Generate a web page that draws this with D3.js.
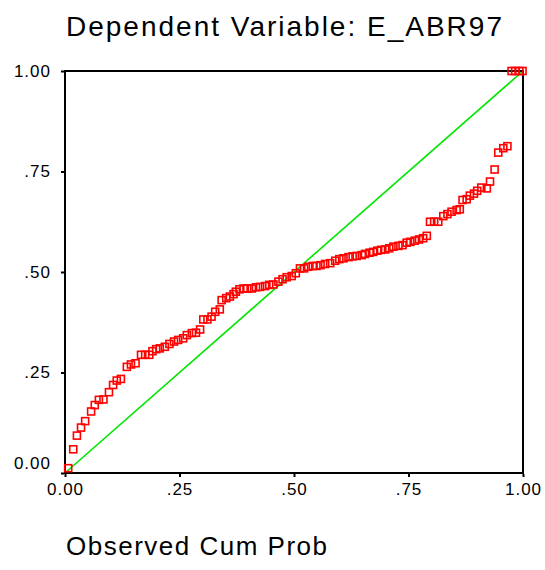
<!DOCTYPE html>
<html>
<head>
<meta charset="utf-8">
<script src="https://cdn.jsdelivr.net/npm/d3@7"></script>
<style>
  html, body { margin: 0; padding: 0; background: #fff; }
  svg { display: block; font-family: Arial, "Liberation Sans", sans-serif; }
</style>
</head>
<body>
<svg id="chart" width="545" height="570"></svg>
<script>
// ---- data ----
const titleText = "Dependent Variable: E_ABR97";
const xLabelText = "Observed Cum Prob";
const tickValues = [0, 0.25, 0.5, 0.75, 1];
const tickLabels = ["0.00", ".25", ".50", ".75", "1.00"];

const observedCumProb = [
  0.007, 0.018, 0.026, 0.035, 0.044, 0.057, 0.065, 0.074, 0.084, 0.096,
  0.105, 0.113, 0.122, 0.135, 0.144, 0.154, 0.166, 0.175, 0.184, 0.191,
  0.199, 0.207, 0.218, 0.228, 0.238, 0.247, 0.258, 0.266, 0.277, 0.286,
  0.295, 0.302, 0.311, 0.320, 0.328, 0.338, 0.342, 0.352, 0.360, 0.368,
  0.373, 0.381, 0.390, 0.398, 0.408, 0.417, 0.426, 0.437, 0.446, 0.455,
  0.466, 0.475, 0.484, 0.495, 0.504, 0.513, 0.522, 0.531, 0.541, 0.549,
  0.558, 0.568, 0.579, 0.590, 0.599, 0.608, 0.619, 0.628, 0.637, 0.648,
  0.655, 0.665, 0.673, 0.682, 0.690, 0.699, 0.708, 0.717, 0.728, 0.737,
  0.746, 0.754, 0.764, 0.773, 0.782, 0.790, 0.797, 0.806, 0.815, 0.826,
  0.835, 0.844, 0.855, 0.862, 0.868, 0.877, 0.884, 0.893, 0.900, 0.909,
  0.921, 0.928, 0.938, 0.946, 0.957, 0.966, 0.975, 0.983, 0.992, 0.999
];
const expectedCumProb = [
  0.012, 0.059, 0.093, 0.113, 0.129, 0.153, 0.169, 0.182, 0.183, 0.201,
  0.219, 0.230, 0.234, 0.264, 0.270, 0.273, 0.294, 0.294, 0.294, 0.303,
  0.308, 0.310, 0.314, 0.321, 0.327, 0.331, 0.335, 0.343, 0.348, 0.349,
  0.357, 0.382, 0.382, 0.389, 0.401, 0.407, 0.430, 0.435, 0.439, 0.445,
  0.451, 0.457, 0.459, 0.459, 0.459, 0.462, 0.463, 0.465, 0.468, 0.469,
  0.476, 0.482, 0.487, 0.490, 0.497, 0.509, 0.509, 0.513, 0.515, 0.515,
  0.517, 0.520, 0.522, 0.528, 0.532, 0.534, 0.537, 0.539, 0.540, 0.542,
  0.545, 0.548, 0.550, 0.553, 0.555, 0.556, 0.559, 0.563, 0.565, 0.567,
  0.573, 0.575, 0.578, 0.581, 0.584, 0.590, 0.625, 0.625, 0.625, 0.639,
  0.644, 0.650, 0.654, 0.656, 0.679, 0.681, 0.690, 0.695, 0.702, 0.710,
  0.708, 0.725, 0.755, 0.797, 0.808, 0.813, 1.000, 1.000, 1.000, 1.000
];

// ---- drawing ----
const svg = d3.select("#chart");
const x = d3.scaleLinear().domain([0, 1]).range([65, 523]);
const y = d3.scaleLinear().domain([0, 1]).range([473, 71]);

// title
svg.append("text")
  .attr("x", 66).attr("y", 36)
  .attr("font-size", 28).attr("letter-spacing", 2)
  .attr("fill", "#000")
  .text(titleText);

// x axis label
svg.append("text")
  .attr("x", 66).attr("y", 555)
  .attr("font-size", 26).attr("letter-spacing", 1.5)
  .attr("fill", "#000")
  .text(xLabelText);

// reference line
svg.append("line")
  .attr("x1", x(0)).attr("y1", y(0))
  .attr("x2", x(1)).attr("y2", y(1))
  .attr("stroke", "#00e600").attr("stroke-width", 1.6);

// frame
svg.append("rect")
  .attr("x", x(0)).attr("y", y(1))
  .attr("width", x(1) - x(0)).attr("height", y(0) - y(1))
  .attr("fill", "none").attr("stroke", "#000").attr("stroke-width", 2);

// axes
const fmt = d => tickLabels[tickValues.indexOf(d)];
const yAxis = svg.append("g")
  .attr("transform", `translate(${x(0) - 1},0)`)
  .call(d3.axisLeft(y).tickValues(tickValues).tickFormat(fmt).tickSize(3).tickPadding(10));
const xAxis = svg.append("g")
  .attr("transform", `translate(0,${y(0) + 1})`)
  .call(d3.axisBottom(x).tickValues(tickValues).tickFormat(fmt).tickSize(3).tickPadding(6));

[yAxis, xAxis].forEach(g => {
  g.select(".domain").remove();
  g.selectAll(".tick line").attr("stroke", "#000").attr("stroke-width", 2);
  g.selectAll(".tick text")
    .attr("font-size", 17).attr("letter-spacing", 1)
    .attr("fill", "#000")
    .attr("font-family", "Arial, 'Liberation Sans', sans-serif");
});
// lowest y label is lifted above the corner
yAxis.selectAll(".tick text").filter(d => d === 0).attr("dy", "-0.28em");

// points
const pts = observedCumProb.map((p, i) => [p, expectedCumProb[i]]);
const s = 7;
svg.append("g").selectAll("rect")
  .data(pts).join("rect")
  .attr("x", d => x(d[0]) - s / 2)
  .attr("y", d => y(d[1]) - s / 2)
  .attr("width", s).attr("height", s)
  .attr("fill", "none")
  .attr("stroke", "#ff0000").attr("stroke-width", 1.6);
</script>
</body>
</html>
